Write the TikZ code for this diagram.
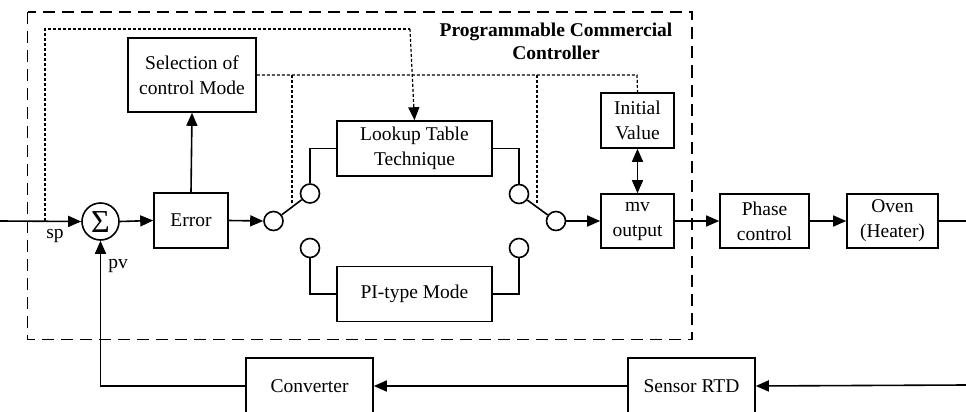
\documentclass[tikz,border=0pt]{standalone}
\usepackage{fontspec}
\setmainfont{Liberation Serif}
\usetikzlibrary{arrows.meta}
\tikzset{
  wire/.style={line width=1.6pt},
  tip/.tip={Triangle[length=13pt,width=11pt]},
  arr/.style={wire,-tip},
  dotline/.style={line width=1.2pt,dash pattern=on 3pt off 2pt},
  blk/.style={draw,line width=1.6pt,rectangle,align=center,inner sep=0pt,font=\fontsize{19.5}{25}\selectfont},
  sw/.style={draw,line width=1.6pt,circle,minimum size=19pt,inner sep=0pt},
  lbl/.style={font=\fontsize{19.5}{25}\selectfont,inner sep=0pt},
}
\begin{document}
\begin{tikzpicture}[x=1pt,y=-1pt]
\useasboundingbox (0,0) rectangle (966,412);
\clip (0,0) rectangle (966,412);
% controller frame
\draw[line width=1.6pt,dash pattern=on 12pt off 7pt] (27.5,12) rectangle (692,339.5);
\node[lbl,font=\fontsize{19.5}{23}\selectfont\bfseries,align=center] (title) at (556,41) {Programmable Commercial\\Controller};
% blocks
\node[draw,line width=1.6pt,circle,minimum size=37pt,inner sep=0pt] (sum) at (100.5,221.5) {};
\node[inner sep=0pt,font=\fontsize{32}{32}\selectfont] at (100.5,222) {Σ};
\node[blk,minimum width=74pt,minimum height=55pt] (err) at (191,220.5) {Error};
\node[blk,minimum width=128pt,minimum height=74pt] (sel) at (192,75) {Selection of\\control Mode};
\node[blk,minimum width=155pt,minimum height=55pt] (lut) at (414.5,148.5) {Lookup Table\\Technique};
\node[blk,minimum width=155pt,minimum height=55pt] (pi) at (414.5,294) {PI-type Mode};
\node[blk,minimum width=73pt,minimum height=55pt] (init) at (637.5,120.5) {Initial\\Value};
\node[blk,minimum width=73pt,minimum height=54pt] (mv) at (637.5,221) {mv\\output};
\node[blk,minimum width=89pt,minimum height=54pt] (phase) at (764.5,221) {Phase\\control};
\node[blk,minimum width=91pt,minimum height=54pt] (oven) at (892.5,221) {Oven\\(Heater)};
\node[blk,minimum width=127pt,minimum height=56pt] (conv) at (309.5,386) {Converter};
\node[blk,minimum width=127pt,minimum height=56pt] (sens) at (691.5,386) {Sensor RTD};
% switch contacts
\node[sw] (sl) at (273.5,221) {};
\node[sw] (slu) at (310,193.5) {};
\node[sw] (sll) at (310,248) {};
\node[sw] (sr) at (556,221) {};
\node[sw] (sru) at (519,194) {};
\node[sw] (srl) at (519,248) {};
% labels
\node[lbl] (sp) at (55,236) {sp};
\node[lbl] (pv) at (118,266) {pv};
% free ends
\coordinate (in) at (0,221);
\coordinate (out) at (966,221);
\coordinate (fb) at (966,385);
\coordinate (tap) at (45,221);
\coordinate (d1) at (45,29);
\coordinate (d2) at (410,29);
\coordinate (e1) at (637,75);
\coordinate (b1) at (292,75);
\coordinate (b1e) at (292,204);
\coordinate (b2) at (537,75);
\coordinate (b2e) at (537,204);
% forward path
\draw[arr] (in) -- (sum.west);
\draw[arr] (sum.east) -- (err.west);
\draw[arr] (err.north) -- (sel.south);
\draw[arr] (err.east) -- (sl.west);
\draw[wire] (sl) -- (slu);
\draw[wire] (slu.north) |- (lut.west);
\draw[wire] (sll.south) |- (pi.west);
\draw[wire] (sru.north) |- (lut.east);
\draw[wire] (srl.south) |- (pi.east);
\draw[wire] (sru) -- (sr);
\draw[arr] (sr.east) -- (mv.west);
\draw[wire,tip-tip] (init.south) -- (mv.north);
\draw[arr] (mv.east) -- (phase.west);
\draw[arr] (phase.east) -- (oven.west);
\draw[wire] (oven.east) -- (out);
% feedback
\draw[arr] (fb) -- (sens.east);
\draw[arr] (sens.west) -- (conv.east);
\draw[arr] (conv.west) -| (sum.south);
% dotted signals
\draw[dotline] (tap) -- (d1) -- (d2);
\draw[dotline,-tip] (d2) -- (lut.north);
\draw[dotline] (sel.east |- e1) -- (e1) -- (init.north);
\draw[dotline] (b1) -- (b1e);
\draw[dotline] (b2) -- (b2e);
\end{tikzpicture}
\end{document}
